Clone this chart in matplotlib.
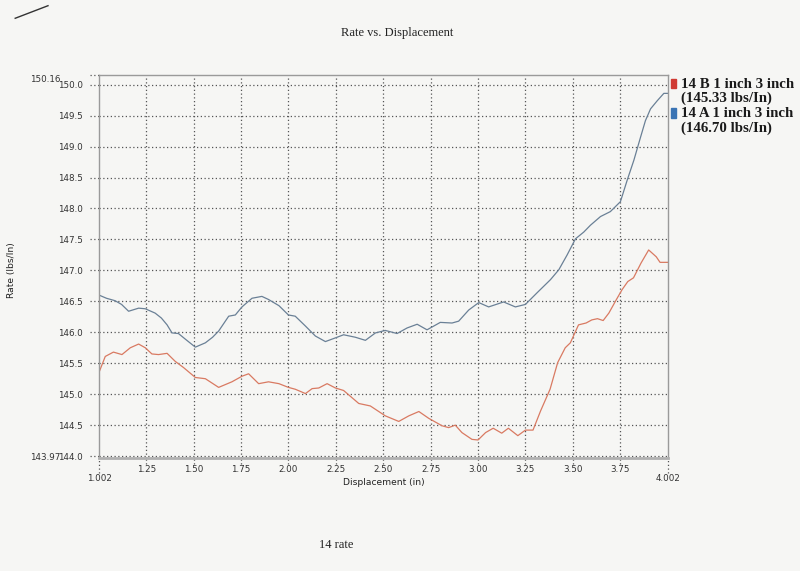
import numpy as np
import matplotlib.pyplot as plt
import matplotlib.transforms as mtransforms

# readings
disp_a = [1.002, 1.04, 1.086, 1.12, 1.157, 1.21, 1.245, 1.297, 1.33, 1.36, 1.386, 1.42,
          1.456, 1.509, 1.562, 1.60, 1.632, 1.685, 1.72, 1.755, 1.808, 1.86, 1.895, 1.95,
          2.0, 2.036, 2.09, 2.142, 2.195, 2.248, 2.291, 2.353, 2.406, 2.459, 2.511, 2.573,
          2.626, 2.679, 2.731, 2.801, 2.863, 2.898, 2.951, 3.004, 3.056, 3.135, 3.197, 3.25,
          3.312, 3.382, 3.426, 3.47, 3.514, 3.558, 3.593, 3.646, 3.698, 3.751, 3.787, 3.822,
          3.857, 3.883, 3.91, 3.945, 3.98, 4.002]
rate_a = [146.60, 146.55, 146.51, 146.45, 146.34, 146.39, 146.38, 146.31, 146.23, 146.12,
          145.99, 145.98, 145.89, 145.76, 145.83, 145.92, 146.02, 146.26, 146.28, 146.41,
          146.55, 146.58, 146.53, 146.43, 146.28, 146.26, 146.10, 145.94, 145.85, 145.91,
          145.96, 145.92, 145.87, 145.99, 146.03, 145.98, 146.07, 146.13, 146.04, 146.16,
          146.15, 146.18, 146.36, 146.48, 146.41, 146.49, 146.41, 146.45, 146.64, 146.85,
          147.01, 147.25, 147.51, 147.62, 147.73, 147.87, 147.95, 148.11, 148.46, 148.78,
          149.15, 149.42, 149.61, 149.74, 149.86, 149.86]

disp_b = [1.002, 1.034, 1.077, 1.122, 1.166, 1.21, 1.245, 1.28, 1.315, 1.36, 1.403, 1.447,
          1.509, 1.562, 1.632, 1.702, 1.755, 1.79, 1.843, 1.895, 1.95, 2.0, 2.036, 2.09,
          2.125, 2.16, 2.204, 2.248, 2.291, 2.371, 2.432, 2.511, 2.582, 2.635, 2.688, 2.74,
          2.81, 2.845, 2.88, 2.915, 2.968, 3.0, 3.04, 3.08, 3.125, 3.16, 3.21, 3.25, 3.29,
          3.33, 3.38, 3.42, 3.46, 3.487, 3.53, 3.57, 3.60, 3.63, 3.66, 3.69, 3.73, 3.76,
          3.79, 3.82, 3.86, 3.90, 3.94, 3.96, 4.002]
rate_b = [145.36, 145.61, 145.68, 145.64, 145.75, 145.81, 145.75, 145.65, 145.64, 145.66,
          145.53, 145.43, 145.27, 145.25, 145.11, 145.20, 145.29, 145.33, 145.17, 145.20,
          145.17, 145.11, 145.08, 145.01, 145.09, 145.10, 145.17, 145.10, 145.06, 144.85,
          144.81, 144.65, 144.56, 144.65, 144.72, 144.61, 144.49, 144.46, 144.50, 144.38,
          144.27, 144.26, 144.38, 144.45, 144.37, 144.45, 144.33, 144.42, 144.42, 144.73,
          145.08, 145.51, 145.75, 145.83, 146.12, 146.15, 146.20, 146.22, 146.19, 146.31,
          146.53, 146.69, 146.82, 146.88, 147.12, 147.33, 147.22, 147.13, 147.13]

x_ticks = [1.25, 1.50, 1.75, 2.00, 2.25, 2.50, 2.75, 3.00, 3.25, 3.50, 3.75]
y_ticks = [144.0, 144.5, 145.0, 145.5, 146.0, 146.5, 147.0, 147.5, 148.0, 148.5,
           149.0, 149.5, 150.0]
x_lim = [1.002, 4.002]
y_lim = [143.97, 150.16]

labels = ["14 B 1 inch 3 inch\n(145.33 lbs/In)", "14 A 1 inch 3 inch\n(146.70 lbs/In)"]

bg = '#f6f6f4'
fs = 6.3
fig = plt.figure(figsize=(8, 5.71), dpi=100, facecolor=bg)
ax = fig.add_axes([0.124, 0.198, 0.711, 0.671], facecolor=bg)

ax.plot(disp_b, rate_b, color='#d97a62', lw=0.9)
ax.plot(disp_a, rate_a, color='#6a8096', lw=0.9)

ax.set_xlim(x_lim)
ax.set_ylim(y_lim)
ax.set_xticks(x_ticks)
ax.set_xticklabels(['%.2f' % v for v in x_ticks])
ax.set_yticks(y_ticks)
ax.set_yticklabels(['%.1f' % v for v in y_ticks])
ax.tick_params(length=0, labelsize=fs, colors='#333333')
ax.tick_params(axis='y', pad=11.5)
ax.tick_params(axis='x', pad=5)
ax.grid(True, linestyle=(0, (1, 2)), color='#555555', lw=0.9)

for s in ax.spines.values():
    s.set_color('#9a9a9a')
    s.set_linewidth(1.0)
ax.spines['bottom'].set_linewidth(2.0)
ax.spines['bottom'].set_color('#b0b0b0')

# dotted tick stubs outside the frame
tx = mtransforms.blended_transform_factory(ax.transAxes, ax.transData)
for v in y_ticks + [y_lim[1]]:
    ax.plot([-0.016, 0], [v, v], transform=tx, clip_on=False,
            linestyle=(0, (1, 2)), color='#555555', lw=0.9)
ty = mtransforms.blended_transform_factory(ax.transData, ax.transAxes)
for v in x_ticks + x_lim:
    ax.plot([v, v], [-0.015 if v in x_ticks else -0.04, 0], transform=ty, clip_on=False,
            linestyle=(0, (1, 2)), color='#555555', lw=0.9)

# end values of the axes
ax.text(x_lim[0], -0.043, '%.3f' % x_lim[0], transform=ty, ha='center', va='top',
        fontsize=fs, color='#333333')
ax.text(x_lim[1], -0.043, '%.3f' % x_lim[1], transform=ty, ha='center', va='top',
        fontsize=fs, color='#333333')
ax.text(-0.068, y_lim[0] + 0.0, '%.2f' % y_lim[0], transform=tx, ha='right', va='center',
        fontsize=fs, color='#333333')
ax.text(-0.068, y_lim[1] - 0.07, '%.2f' % y_lim[1], transform=tx, ha='right', va='center',
        fontsize=fs, color='#333333')

ax.set_xlabel('Displacement (in)', fontsize=fs + 0.3, color='#222222', labelpad=3)
ax.set_ylabel('Rate (lbs/In)', fontsize=fs + 0.3, color='#222222')
ax.yaxis.set_label_coords(-0.147, 0.49)

fig.text(0.497, 0.942, 'Rate vs. Displacement', family='Liberation Serif',
         fontsize=9, ha='center', va='center', color='#222222')
fig.text(0.42, 0.046, '14 rate', family='Liberation Serif',
         fontsize=9, ha='center', va='center', color='#222222')

# legend drawn as text blocks
leg_colors = ['#d03a32', '#3a74b4']
leg_y = [0.853, 0.801]
for c, y, lab in zip(leg_colors, leg_y, labels):
    fig.patches.append(plt.Rectangle((0.839, y - 0.007), 0.006, 0.016, color=c,
                                     transform=fig.transFigure))
    fig.text(0.851, y + 0.011, lab, family='Liberation Serif', fontweight='bold',
             fontsize=10.7, ha='left', va='top', color='#1a1a1a', linespacing=1.08)

# pen stroke in the scan corner
fig.add_artist(plt.Line2D([0.019, 0.060], [0.968, 0.990], color='#333333', lw=1.0))

fig.savefig('out.png', dpi=100, facecolor=bg)
